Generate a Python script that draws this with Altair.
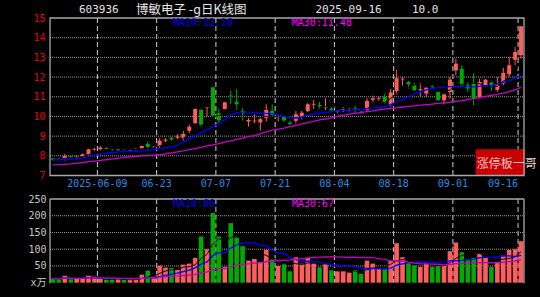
import altair as alt
import pandas as pd

# ---------------- data ----------------
dates = [
    "2025-05-27", "2025-05-28", "2025-05-29", "2025-05-30",
    "2025-06-03", "2025-06-04", "2025-06-05", "2025-06-06",
    "2025-06-09", "2025-06-10", "2025-06-11", "2025-06-12", "2025-06-13",
    "2025-06-16", "2025-06-17", "2025-06-18", "2025-06-19", "2025-06-20",
    "2025-06-23", "2025-06-24", "2025-06-25", "2025-06-26", "2025-06-27",
    "2025-06-30", "2025-07-01", "2025-07-02", "2025-07-03", "2025-07-04",
    "2025-07-07", "2025-07-08", "2025-07-09", "2025-07-10", "2025-07-11",
    "2025-07-14", "2025-07-15", "2025-07-16", "2025-07-17", "2025-07-18",
    "2025-07-21", "2025-07-22", "2025-07-23", "2025-07-24", "2025-07-25",
    "2025-07-28", "2025-07-29", "2025-07-30", "2025-07-31", "2025-08-01",
    "2025-08-04", "2025-08-05", "2025-08-06", "2025-08-07", "2025-08-08",
    "2025-08-11", "2025-08-12", "2025-08-13", "2025-08-14", "2025-08-15",
    "2025-08-18", "2025-08-19", "2025-08-20", "2025-08-21", "2025-08-22",
    "2025-08-25", "2025-08-26", "2025-08-27", "2025-08-28", "2025-08-29",
    "2025-09-01", "2025-09-02", "2025-09-03", "2025-09-04", "2025-09-05",
    "2025-09-08", "2025-09-09", "2025-09-10", "2025-09-11", "2025-09-12",
    "2025-09-15", "2025-09-16",
]
opens = [7.86, 7.84, 7.79, 7.98, 7.91, 7.96, 8.06, 8.31, 8.34, 8.40,
         8.35, 8.29, 8.33, 8.28, 8.29, 8.36, 8.60, 8.42, 8.50, 8.77,
         8.92, 8.92, 8.90, 9.27, 9.66, 10.33, 10.44, 11.48, 10.16, 10.38,
         11.06, 10.75, 10.29, 9.74, 9.75, 9.70, 9.92, 10.28, 10.00, 9.99,
         9.68, 9.78, 10.00, 10.28, 10.60, 10.58, 10.43, 10.40, 10.25, 10.29,
         10.31, 10.40, 10.24, 10.33, 10.84, 10.90, 11.00, 10.60, 11.28, 11.88,
         11.75, 11.58, 11.33, 11.16, 11.52, 11.24, 10.82, 11.24, 12.34, 12.42,
         11.58, 11.67, 10.99, 11.58, 11.72, 11.35, 11.67, 12.14, 12.88, 13.11]
highs = [7.90, 7.88, 8.10, 8.00, 8.00, 8.12, 8.35, 8.40, 8.50, 8.45,
         8.37, 8.38, 8.36, 8.32, 8.40, 8.52, 8.72, 8.50, 8.89, 8.90,
         8.95, 9.10, 9.26, 9.60, 10.40, 10.35, 10.48, 11.50, 10.42, 10.74,
         11.30, 11.40, 10.42, 9.91, 10.11, 9.94, 10.62, 10.62, 10.09, 10.02,
         9.78, 10.28, 10.28, 10.68, 10.84, 10.74, 10.92, 10.47, 10.33, 10.47,
         10.45, 10.55, 10.28, 10.92, 11.06, 11.03, 11.17, 11.40, 12.36, 12.02,
         11.80, 11.70, 11.70, 11.48, 11.60, 11.26, 11.16, 12.00, 12.93, 12.60,
         11.75, 12.20, 11.92, 11.90, 11.78, 12.00, 12.48, 13.02, 13.53, 14.60]
lows = [7.76, 7.78, 7.76, 7.90, 7.88, 7.94, 8.04, 8.28, 8.30, 8.30,
        8.25, 8.27, 8.28, 8.22, 8.27, 8.33, 8.33, 8.40, 8.40, 8.70,
        8.78, 8.85, 8.78, 9.15, 9.62, 9.45, 10.00, 10.02, 9.65, 10.36,
        10.63, 10.33, 9.79, 9.48, 9.65, 9.28, 9.74, 9.99, 9.75, 9.72,
        9.55, 9.65, 9.85, 10.22, 10.38, 10.35, 10.33, 10.28, 10.18, 10.22,
        10.25, 10.16, 10.12, 10.24, 10.72, 10.80, 10.65, 10.50, 11.10, 11.56,
        11.42, 11.30, 11.00, 10.97, 11.40, 10.80, 10.62, 10.90, 12.09, 11.50,
        11.25, 10.57, 10.92, 11.50, 11.30, 11.25, 11.58, 11.97, 12.60, 12.93]
closes = [7.80, 7.82, 7.99, 7.93, 7.96, 8.08, 8.33, 8.35, 8.42, 8.36,
          8.31, 8.33, 8.30, 8.30, 8.34, 8.50, 8.45, 8.46, 8.77, 8.82,
          8.83, 8.98, 9.11, 9.48, 10.38, 9.58, 10.46, 10.04, 9.80, 10.72,
          11.02, 10.62, 10.16, 9.82, 9.79, 9.86, 10.33, 10.08, 10.04, 9.80,
          9.62, 10.11, 10.19, 10.62, 10.64, 10.52, 10.47, 10.32, 10.29, 10.36,
          10.36, 10.32, 10.18, 10.79, 10.92, 10.94, 10.70, 11.22, 11.94, 11.92,
          11.64, 11.33, 11.38, 11.46, 11.44, 10.82, 11.12, 11.87, 12.68, 11.58,
          11.42, 10.90, 11.75, 11.87, 11.52, 11.62, 12.21, 12.60, 13.27, 14.58]
volumes = [12, 10, 21, 10, 13, 13, 21, 18, 12, 9,
           9, 10, 9, 8, 10, 24, 36, 18, 51, 45,
           44, 39, 54, 57, 74, 138, 100, 208, 138, 47,
           178, 135, 109, 66, 71, 62, 98, 69, 50, 55,
           34, 76, 57, 74, 57, 46, 55, 37, 34, 34,
           30, 38, 27, 66, 57, 44, 42, 66, 118, 76,
           59, 52, 47, 57, 47, 52, 50, 94, 120, 91,
           69, 74, 86, 74, 47, 62, 81, 98, 100, 124]
ma10_line = [7.79, 7.80, 7.81, 7.82, 7.84, 7.90, 7.96, 8.01, 8.07, 8.12,
             8.17, 8.20, 8.21, 8.22, 8.23, 8.25, 8.29, 8.32, 8.35, 8.40,
             8.46, 8.55, 8.70, 8.85, 9.02, 9.18, 9.33, 9.48, 9.62, 9.82,
             10.08, 10.18, 10.22, 10.22, 10.20, 10.17, 10.15, 10.14, 10.08, 10.00,
             9.93, 9.92, 9.98, 10.05, 10.12, 10.17, 10.21, 10.26, 10.28, 10.30,
             10.32, 10.34, 10.36, 10.40, 10.43, 10.47, 10.51, 10.60, 10.74, 10.87,
             10.99, 11.13, 11.25, 11.35, 11.42, 11.46, 11.49, 11.51, 11.53, 11.53,
             11.51, 11.50, 11.53, 11.56, 11.58, 11.64, 11.73, 11.82, 11.93, 12.10]
ma30_line = [7.54, 7.55, 7.57, 7.59, 7.62, 7.66, 7.70, 7.73, 7.77, 7.80,
             7.84, 7.88, 7.91, 7.94, 7.97, 8.00, 8.02, 8.04, 8.06, 8.10,
             8.15, 8.20, 8.25, 8.31, 8.37, 8.43, 8.50, 8.56, 8.62, 8.69,
             8.76, 8.83, 8.90, 8.97, 9.03, 9.12, 9.22, 9.30, 9.35, 9.41,
             9.48, 9.55, 9.62, 9.68, 9.75, 9.82, 9.87, 9.93, 10.00, 10.07,
             10.12, 10.16, 10.20, 10.24, 10.28, 10.33, 10.37, 10.41, 10.44, 10.48,
             10.51, 10.54, 10.57, 10.60, 10.63, 10.66, 10.69, 10.72, 10.76, 10.80,
             10.85, 10.90, 10.95, 11.02, 11.07, 11.12, 11.18, 11.26, 11.36, 11.48]

tick_dates = ["2025-06-09", "2025-06-23", "2025-07-07", "2025-07-21",
              "2025-08-04", "2025-08-18", "2025-09-01", "2025-09-16"]
tick_labels = ["2025-06-09", "06-23", "07-07", "07-21",
               "08-04", "08-18", "09-01", "09-16"]
price_ticks = [7, 8, 9, 10, 11, 12, 13, 14, 15]
price_grid = [8, 9, 10, 11, 12, 13, 14]
vol_ticks = [0, 50, 100, 150, 200, 250]
vol_grid = [50, 100, 150, 200]

# ---------------- styling ----------------
MONO = "DejaVu Sans Mono"
CJK = "Noto Sans CJK SC"
RED = "#ff5c5c"
GREEN = "#00aa00"
W = 474          # plot width
PH = 157.5       # price panel height
VT = 181         # volume panel top
VB = 264.7       # volume panel bottom

df = pd.DataFrame({
    "i": list(range(len(dates))), "d": dates, "o": opens, "h": highs,
    "l": lows, "c": closes, "v": volumes, "ma10": ma10_line, "ma30": ma30_line,
})
one = pd.DataFrame({"k": [0]})
ticks_df = pd.DataFrame({"d": tick_dates, "lab": tick_labels})

xscale = alt.Scale(type="band", domain=dates, paddingInner=0, paddingOuter=0)
X = alt.X("d:O", scale=xscale, axis=None)
X0 = alt.X("d:O", scale=xscale, axis=None, bandPosition=0)
updown = alt.condition("datum.c >= datum.o", alt.value(RED), alt.value(GREEN))

pscale = alt.Scale(domain=[7, 15], range=[PH, 0], zero=False, nice=False)
paxis = alt.Axis(values=price_ticks, grid=False, domain=False, ticks=False,
                 labelColor="#ee0000", labelFont=MONO, labelFontSize=10,
                 labelPadding=5, labelOverlap=False, title=None, orient="left")
vscale = alt.Scale(domain=[0, 250], range=[VB, VT], nice=False)
vaxis = alt.Axis(values=vol_ticks, grid=False, domain=False, ticks=False,
                 labelColor="#c8c8c8", labelFont=MONO + ", " + CJK, labelFontSize=10,
                 labelPadding=4, labelOverlap=False, title=None, orient="left",
                 labelExpr="datum.value == 0 ? 'x万' : datum.label")

# ---------------- price panel ----------------
pgrid = alt.Chart(pd.DataFrame({"g": price_grid})).mark_rule(
    color="#9a9a9a", strokeDash=[1, 1], strokeWidth=1
).encode(y=alt.Y("g:Q", scale=pscale, axis=paxis), x=alt.value(0), x2=alt.value(W))
wick = alt.Chart(df).mark_rule(strokeWidth=1).encode(
    x=X, y=alt.Y("l:Q", scale=pscale, axis=paxis), y2="h:Q", color=updown)
body = alt.Chart(df).mark_bar(size=4).encode(
    x=X, y=alt.Y("o:Q", scale=pscale, axis=paxis), y2="c:Q", color=updown)
pma5 = alt.Chart(df).transform_window(
    ma5="mean(c)", frame=[-4, 0], sort=[alt.SortField("i")]
).mark_line(color="#000000", strokeWidth=1).encode(
    x=X, y=alt.Y("ma5:Q", scale=pscale, axis=paxis), order="i:Q")
pma10 = alt.Chart(df).mark_line(color="#0000ff", strokeWidth=1.3).encode(
    x=X, y=alt.Y("ma10:Q", scale=pscale, axis=paxis), order="i:Q")
pma30 = alt.Chart(df).mark_line(color="#cc00cc", strokeWidth=1.3).encode(
    x=X, y=alt.Y("ma30:Q", scale=pscale, axis=paxis), order="i:Q")
price = alt.layer(pgrid, wick, body, pma5, pma10, pma30)

# ---------------- volume panel ----------------
vgrid = alt.Chart(pd.DataFrame({"g": vol_grid})).mark_rule(
    color="#9a9a9a", strokeDash=[1, 1], strokeWidth=1
).encode(y=alt.Y("g:Q", scale=vscale, axis=vaxis), x=alt.value(0), x2=alt.value(W))
vbars = alt.Chart(df).mark_bar(size=4.6).encode(
    x=X, y=alt.Y("v:Q", scale=vscale, axis=vaxis), color=updown)
vma5 = alt.Chart(df).transform_window(
    m="mean(v)", frame=[-4, 0], sort=[alt.SortField("i")]
).mark_line(color="#1a0000", strokeWidth=1).encode(
    x=X, y=alt.Y("m:Q", scale=vscale, axis=vaxis), order="i:Q")
vma10 = alt.Chart(df).transform_window(
    m="mean(v)", frame=[-9, 0], sort=[alt.SortField("i")]
).mark_line(color="#0000ff", strokeWidth=1.3).encode(
    x=X, y=alt.Y("m:Q", scale=vscale, axis=vaxis), order="i:Q")
vma30 = alt.Chart(df).transform_window(
    m="mean(v)", frame=[-29, 0], sort=[alt.SortField("i")]
).mark_line(color="#c000c0", strokeWidth=1.3).encode(
    x=X, y=alt.Y("m:Q", scale=vscale, axis=vaxis), order="i:Q")
volume = alt.layer(vgrid, vbars, vma5, vma10, vma30)

# ---------------- annotations ----------------
vl_p = alt.Chart(ticks_df).mark_rule(color="#cfcfcf", strokeDash=[5, 3], strokeWidth=1).encode(
    x=X0, y=alt.value(0), y2=alt.value(PH))
vl_v = alt.Chart(ticks_df).mark_rule(color="#cfcfcf", strokeDash=[5, 3], strokeWidth=1).encode(
    x=X0, y=alt.value(VT), y2=alt.value(VB))

frame_p = alt.Chart(one).mark_rect(fillOpacity=0, stroke="#a8a8a8", strokeWidth=1.3).encode(
    x=alt.value(0), x2=alt.value(W), y=alt.value(0), y2=alt.value(PH))
fr_top = alt.Chart(one).mark_rule(color="#a8a8a8", strokeWidth=1.3).encode(
    x=alt.value(0), x2=alt.value(W), y=alt.value(VT))
fr_left = alt.Chart(one).mark_rule(color="#a8a8a8", strokeWidth=1.3).encode(
    x=alt.value(0), y=alt.value(VT), y2=alt.value(VB + 0.5))
fr_right = alt.Chart(one).mark_rule(color="#a8a8a8", strokeWidth=1.3).encode(
    x=alt.value(W), y=alt.value(VT), y2=alt.value(VB + 0.5))

date_lab = alt.Chart(ticks_df.iloc[:-1]).mark_text(
    font=MONO, fontSize=10, color="#2b8ce6", align="center", baseline="middle"
).encode(x=X0, y=alt.value(166), text="lab:N")
date_last = alt.Chart(ticks_df.iloc[-1:]).mark_text(
    font=MONO, fontSize=10, color="#2b8ce6", align="right", baseline="middle"
).encode(x=X0, y=alt.value(166), text="lab:N")


def label(txt, x, y, color, font=MONO, size=10):
    return alt.Chart(pd.DataFrame({"t": [txt]})).mark_text(
        font=font, fontSize=size, color=color, align="left", baseline="middle"
    ).encode(x=alt.value(x), y=alt.value(y), text="t:N")


texts = [
    label("603936", 29, -8.5, "#e6e6e6", MONO, 11),
    label("博敏电子 -ɡ日K线图", 86, -8.5, "#e6e6e6", CJK, 12.5),
    label("2025-09-16", 265.5, -8.5, "#e6e6e6", MONO, 11),
    label("10.0", 362, -8.5, "#e6e6e6", MONO, 11),
    label("MA10:12.10", 122.7, 5.3, "#0000ee"),
    label("MA30:11.48", 241.7, 5.3, "#ff00ff"),
    label("MA10:80", 123, VT + 5.3, "#0000ee"),
    label("MA30:67", 242, VT + 5.3, "#ff00ff"),
]

limit_box = alt.Chart(one).mark_rect(color="#c80000").encode(
    x=alt.value(425.7), x2=alt.value(W + 1), y=alt.value(131.3), y2=alt.value(PH))
limit_text = label("涨停板一哥", 426.7, 146, "#f2c4c4", CJK, 12)

chart = alt.layer(
    vl_p, vl_v, price, volume, limit_box, frame_p, fr_top, fr_left, fr_right,
    date_lab, date_last, limit_text, *texts
).resolve_scale(y="independent").resolve_axis(y="independent").properties(
    width=W, height=265,
    autosize=alt.AutoSizeParams(type="none"),
    padding={"left": 50, "top": 18, "right": 16, "bottom": 14},
    background="#000000",
).configure_view(strokeWidth=0)

chart.save("out.html", embed_options={"renderer": "svg", "actions": False})
